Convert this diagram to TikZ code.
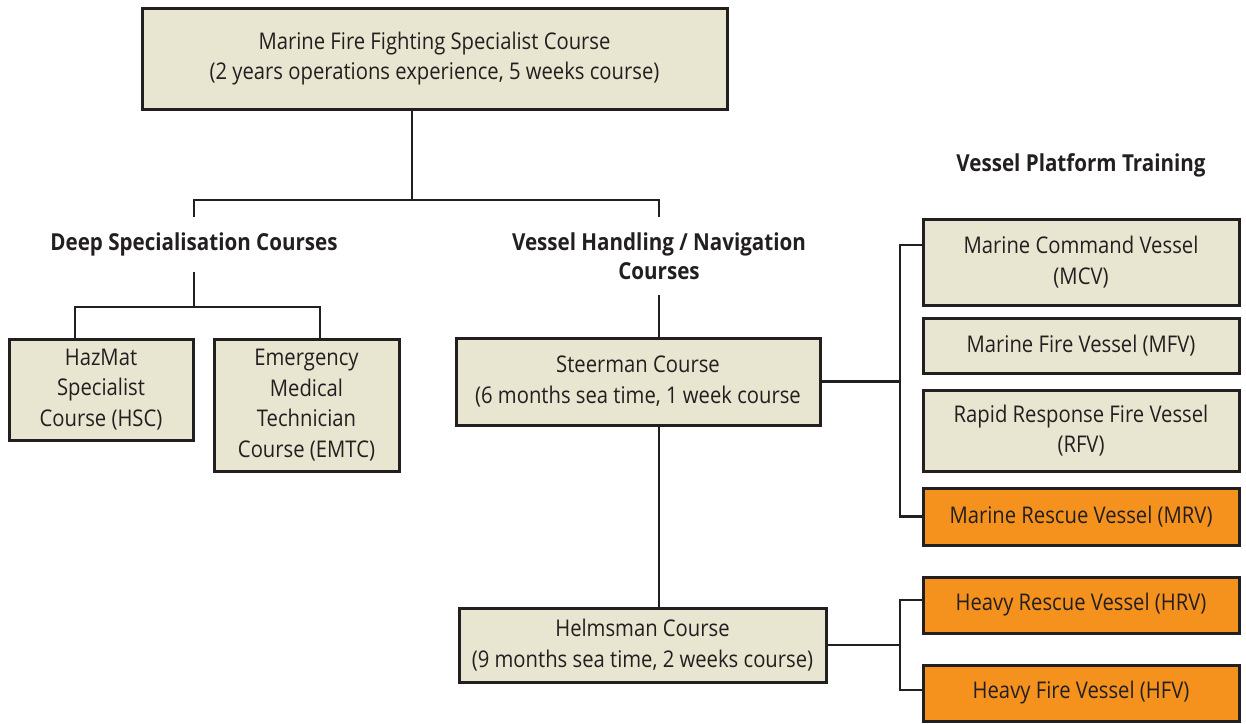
\documentclass[tikz,border=0pt]{standalone}
\usepackage{fontspec}
\setmainfont{Open Sans}[FakeStretch=0.88]
\definecolor{beige}{RGB}{232,229,208}
\definecolor{amber}{RGB}{245,146,30}
\definecolor{ink}{RGB}{35,31,32}
\begin{document}
\begin{tikzpicture}[x=0.5pt,y=-0.5pt,
    line width=1.3pt, draw=ink,
    course/.style={draw=ink, line width=1.5pt, fill=beige, align=center,
      inner sep=0pt, font=\fontsize{11.5}{15.3}\selectfont, text=ink},
    vessel/.style={course, minimum width=158pt},
    rescue/.style={vessel, fill=amber},
    heading/.style={align=center, inner sep=0pt, text=ink,
      font=\fontsize{11.7}{14.5}\selectfont\bfseries}]
  \useasboundingbox (0,0) rectangle (1246,723);

  % course boxes
  \node[course, minimum width=292.5pt, minimum height=50.5pt] (top) at (434.5,58.5)
    {Marine Fire Fighting Specialist Course\\(2 years operations experience, 5 weeks course)};
  \node[heading, minimum height=26.5pt] (dsc) at (194,244.5) {Deep Specialisation Courses};
  \node[heading, minimum height=38pt] (vhn) at (659,256) {Vessel Handling / Navigation\\Courses};
  \node[heading] (vpt) at (1081,165) {Vessel Platform Training};
  \node[course, minimum width=92pt, minimum height=50.5pt] (hsc) at (101,389.5)
    {HazMat\\Specialist\\Course (HSC)};
  \node[course, minimum width=92.5pt, minimum height=66pt] (emtc) at (306.5,405)
    {Emergency\\Medical\\Technician\\Course (EMTC)};
  \node[course, minimum width=182pt, minimum height=43.5pt] (steer) at (638,381.5)
    {Steerman Course\\(6 months sea time, 1 week course};
  \node[course, minimum width=183.5pt, minimum height=37pt] (helm) at (642.5,645)
    {Helmsman Course\\(9 months sea time, 2 weeks course)};

  % vessel boxes
  \node[vessel, minimum height=43pt] (mcv) at (1081,262) {Marine Command Vessel\\(MCV)};
  \node[vessel, minimum height=27.5pt] (mfv) at (1081,345.5) {Marine Fire Vessel (MFV)};
  \node[vessel, minimum height=40.5pt] (rfv) at (1081,430.5) {Rapid Response Fire Vessel\\(RFV)};
  \node[rescue, minimum height=28.5pt] (mrv) at (1081,516.5) {Marine Rescue Vessel (MRV)};
  \node[rescue, minimum height=28pt] (hrv) at (1081,605) {Heavy Rescue Vessel (HRV)};
  \node[rescue, minimum height=28pt] (hfv) at (1081,693) {Heavy Fire Vessel (HFV)};

  % junctions
  \coordinate (tj) at (412,200);
  \coordinate (dj) at (194,307);
  \coordinate (sj) at (900,381.5);
  \coordinate (hj) at (900,645);

  % connectors
  \draw (top.south -| tj) -- (tj) -| (dsc.north);
  \draw (tj) -| (vhn.north);
  \draw (dsc.south) -- (dj);
  \draw ([xshift=-13pt]hsc.north) |- (dj) -| ([xshift=6.75pt]emtc.north);
  \draw (vhn.south) -- (vhn.south |- steer.north);
  \draw (steer.south -| vhn.south) -- (helm.north -| vhn.south);
  \draw (steer.east) -- (sj);
  \draw ([yshift=8.5pt]mcv.west) -| (sj) |- (mrv.west);
  \draw (helm.east) -- (hj);
  \draw ([yshift=2.5pt]hrv.west) -| (hj) |- ([yshift=1.5pt]hfv.west);
\end{tikzpicture}
\end{document}
